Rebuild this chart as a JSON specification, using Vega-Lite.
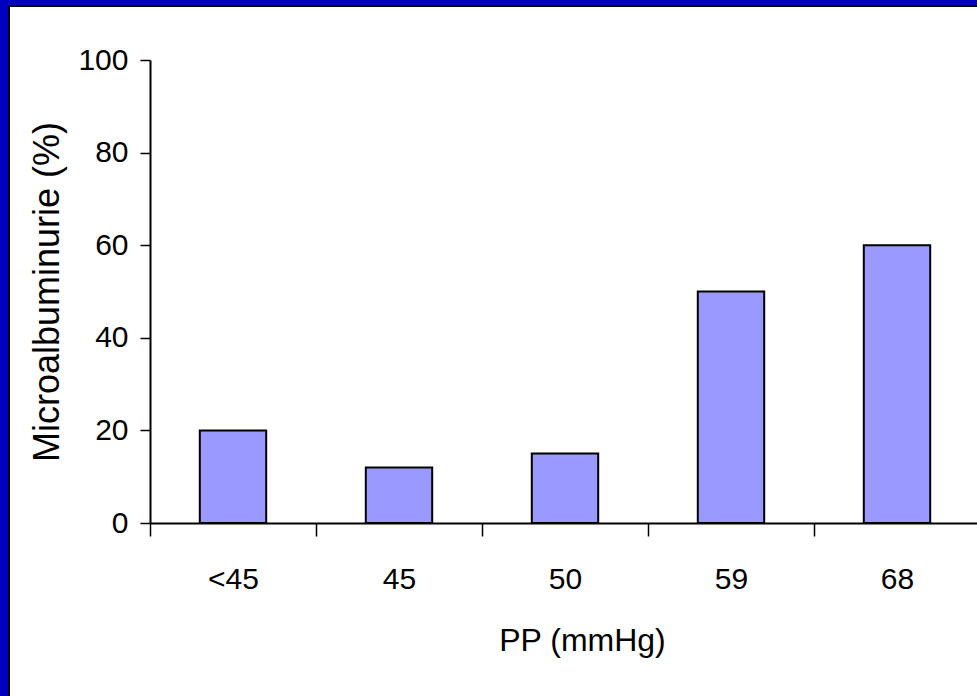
{
  "$schema": "https://vega.github.io/schema/vega-lite/v6.json",
  "width": 972,
  "height": 694,
  "autosize": {"type": "none"},
  "padding": {"left": 9, "top": 6, "right": 0, "bottom": 0},
  "background": "#0000c0",
  "view": {"fill": "white", "stroke": "black", "strokeWidth": 2},
  "data": {
    "values": [
      {"pp": "<45", "micro": 20},
      {"pp": "45", "micro": 12},
      {"pp": "50", "micro": 15},
      {"pp": "59", "micro": 50},
      {"pp": "68", "micro": 60}
    ]
  },
  "mark": {
    "type": "bar",
    "fill": "#9999ff",
    "stroke": "black",
    "strokeWidth": 2,
    "width": {"band": 0.4}
  },
  "encoding": {
    "x": {
      "field": "pp",
      "type": "nominal",
      "sort": null,
      "scale": {"range": [141, 971], "paddingInner": 0, "paddingOuter": 0},
      "axis": {
        "title": "PP (mmHg)",
        "titleX": 573,
        "labelAngle": 0,
        "offset": -177,
        "tickBand": "extent",
        "tickSize": 13,
        "tickWidth": 1.5,
        "tickColor": "black",
        "domainColor": "black",
        "domainWidth": 2,
        "labelFont": "Liberation Sans, Arial",
        "labelFontSize": 30,
        "labelColor": "black",
        "labelPadding": 28,
        "titleFont": "Liberation Sans, Arial",
        "titleFontSize": 32,
        "titleFontWeight": "normal",
        "titleColor": "black",
        "titlePadding": 31
      }
    },
    "y": {
      "field": "micro",
      "type": "quantitative",
      "scale": {"domain": [0, 100], "range": [517, 54], "nice": false},
      "axis": {
        "title": "Microalbuminurie (%)",
        "values": [0, 20, 40, 60, 80, 100],
        "offset": -141,
        "grid": false,
        "tickSize": 10,
        "tickWidth": 1.5,
        "tickColor": "black",
        "domainColor": "black",
        "domainWidth": 2,
        "labelFont": "Liberation Sans, Arial",
        "labelFontSize": 30,
        "labelColor": "black",
        "labelPadding": 12,
        "titleFont": "Liberation Sans, Arial",
        "titleFontSize": 36,
        "titleFontWeight": "normal",
        "titleColor": "black",
        "titlePadding": 11
      }
    }
  }
}
